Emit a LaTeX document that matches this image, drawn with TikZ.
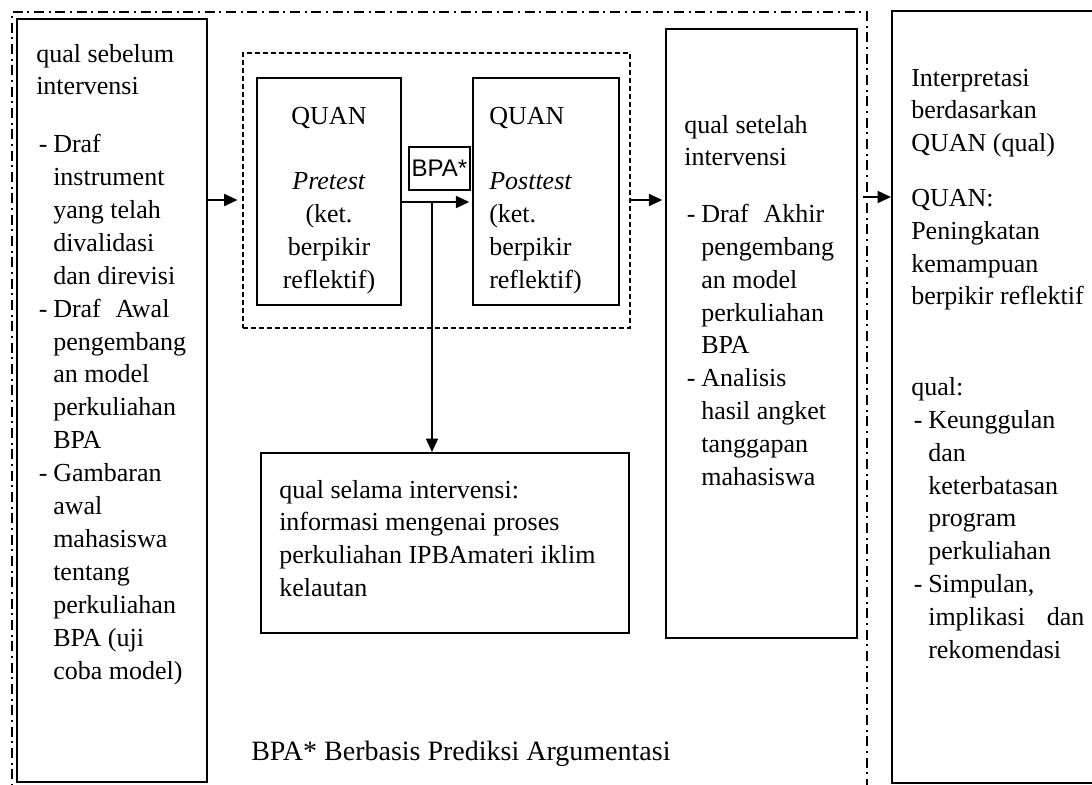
\documentclass[tikz,border=0pt]{standalone}
\usepackage{fontspec}
\setmainfont{Liberation Serif}
\newfontfamily\sansf{Liberation Sans}
\usetikzlibrary{arrows.meta,fit}
\newcommand{\Itm}{\hspace*{2pt}\makebox[10.75pt][l]{-}}
\newcommand{\Cnt}{\hspace*{12.75pt}}
\begin{document}
\begin{tikzpicture}[x=0.75pt,y=-0.75pt,
  box/.style={draw, line width=1.6pt, inner sep=0pt},
  arr/.style={-{Triangle[length=10pt,width=9pt]}, line width=1.3pt},
  txt/.style={inner sep=0pt, anchor=base west, font=\fontsize{19.5}{24.7}\selectfont},
]
\clip (0,0) rectangle (1092,785);
% outer dash-dot frame
\node[draw, line width=1.2pt, dash pattern=on 7.5pt off 3.5pt on 1.5pt off 3.5pt, inner sep=0pt, fit={(12,12) (867,830)}] (frame) {};
% boxes
\node[box, fit={(17,19) (207,782)}] (L) {};
\node[draw, line width=1.2pt, dash pattern=on 4pt off 2pt, inner sep=0pt, fit={(243,53) (630,328)}] (D) {};
\node[box, fit={(257,78) (401,305)}] (Pre) {};
\node[box, fit={(473,78) (619,305)}] (Post) {};
\node[box, line width=1.3pt, fit={(409,147) (470,190)}] (B) {};
\node[inner sep=0pt, font=\sansf\fontsize{18}{20}\selectfont] (Bt) at (B.center) {BPA*};
\node[box, fit={(261,453) (629,633)}] (S) {};
\node[box, fit={(666,29) (857,638)}] (A) {};
\node[box, fit={(892,11) (1120,783)}] (R) {};
% texts
\node[txt] (Lt) at (36,62) {\begin{tabular}[t]{@{}l@{}}
qual sebelum\\
intervensi\\[18.4pt]
\Itm Draf\\
\Cnt instrument\\
\Cnt yang telah\\
\Cnt divalidasi\\
\Cnt dan direvisi\\
\Itm Draf\hspace{11pt}Awal\\
\Cnt pengembang\\
\Cnt an model\\
\Cnt perkuliahan\\
\Cnt BPA\\
\Itm Gambaran\\
\Cnt awal\\
\Cnt mahasiswa\\
\Cnt tentang\\
\Cnt perkuliahan\\
\Cnt BPA (uji\\
\Cnt coba model)
\end{tabular}};
\node[inner sep=0pt, anchor=base, font=\fontsize{19.5}{24.7}\selectfont] (PreT) at (329,124) {\begin{tabular}[t]{@{}c@{}}
QUAN\\[24.7pt]
\textit{Pretest}\\
(ket.\\
berpikir\\
reflektif)
\end{tabular}};
\node[txt] (PostT) at (489,124) {\begin{tabular}[t]{@{}l@{}}
QUAN\\[24.7pt]
\textit{Posttest}\\
(ket.\\
berpikir\\
reflektif)
\end{tabular}};
\node[txt] (St) at (279,498) {\begin{tabular}[t]{@{}l@{}}
qual selama intervensi:\\
informasi mengenai proses\\
perkuliahan IPBAmateri iklim\\
kelautan
\end{tabular}};
\node[txt] (At) at (684,133) {\begin{tabular}[t]{@{}l@{}}
qual setelah\\
intervensi\\[17.5pt]
\Itm Draf\hspace{11pt}Akhir\\
\Cnt pengembang\\
\Cnt an model\\
\Cnt perkuliahan\\
\Cnt BPA\\
\Itm Analisis\\
\Cnt hasil angket\\
\Cnt tanggapan\\
\Cnt mahasiswa
\end{tabular}};
\node[txt] (Rt) at (911,86) {\begin{tabular}[t]{@{}l@{}}
Interpretasi\\
berdasarkan\\
QUAN (qual)\\[16pt]
QUAN:\\
Peningkatan\\
kemampuan\\
berpikir reflektif\\[43pt]
qual:\\
\Itm Keunggulan\\
\Cnt dan\\
\Cnt keterbatasan\\
\Cnt program\\
\Cnt perkuliahan\\
\Itm Simpulan,\\
\Cnt \makebox[117pt][s]{implikasi\hfill dan}\\
\Cnt rekomendasi
\end{tabular}};
\node[inner sep=0pt, anchor=base west, font=\fontsize{21}{25}\selectfont] (foot) at (251,760) {BPA* Berbasis Prediksi Argumentasi};
% connectors
\coordinate (c1) at (207,200);
\coordinate (c2) at (401,202);
\coordinate (c3) at (432,202);
\coordinate (c4) at (630,200);
\coordinate (c5) at (863,197);
\draw[arr, shorten >=3.5pt] (L.east |- c1) -- (c1 -| D.west);
\draw[arr, shorten >=2pt] (Pre.east |- c2) -- (c2 -| Post.west);
\draw[arr] (c3) -- (c3 |- S.north);
\draw[arr, shorten >=2pt] (D.east |- c4) -- (c4 -| A.west);
\draw[arr] (c5) -- (c5 -| R.west);
\end{tikzpicture}
\end{document}
